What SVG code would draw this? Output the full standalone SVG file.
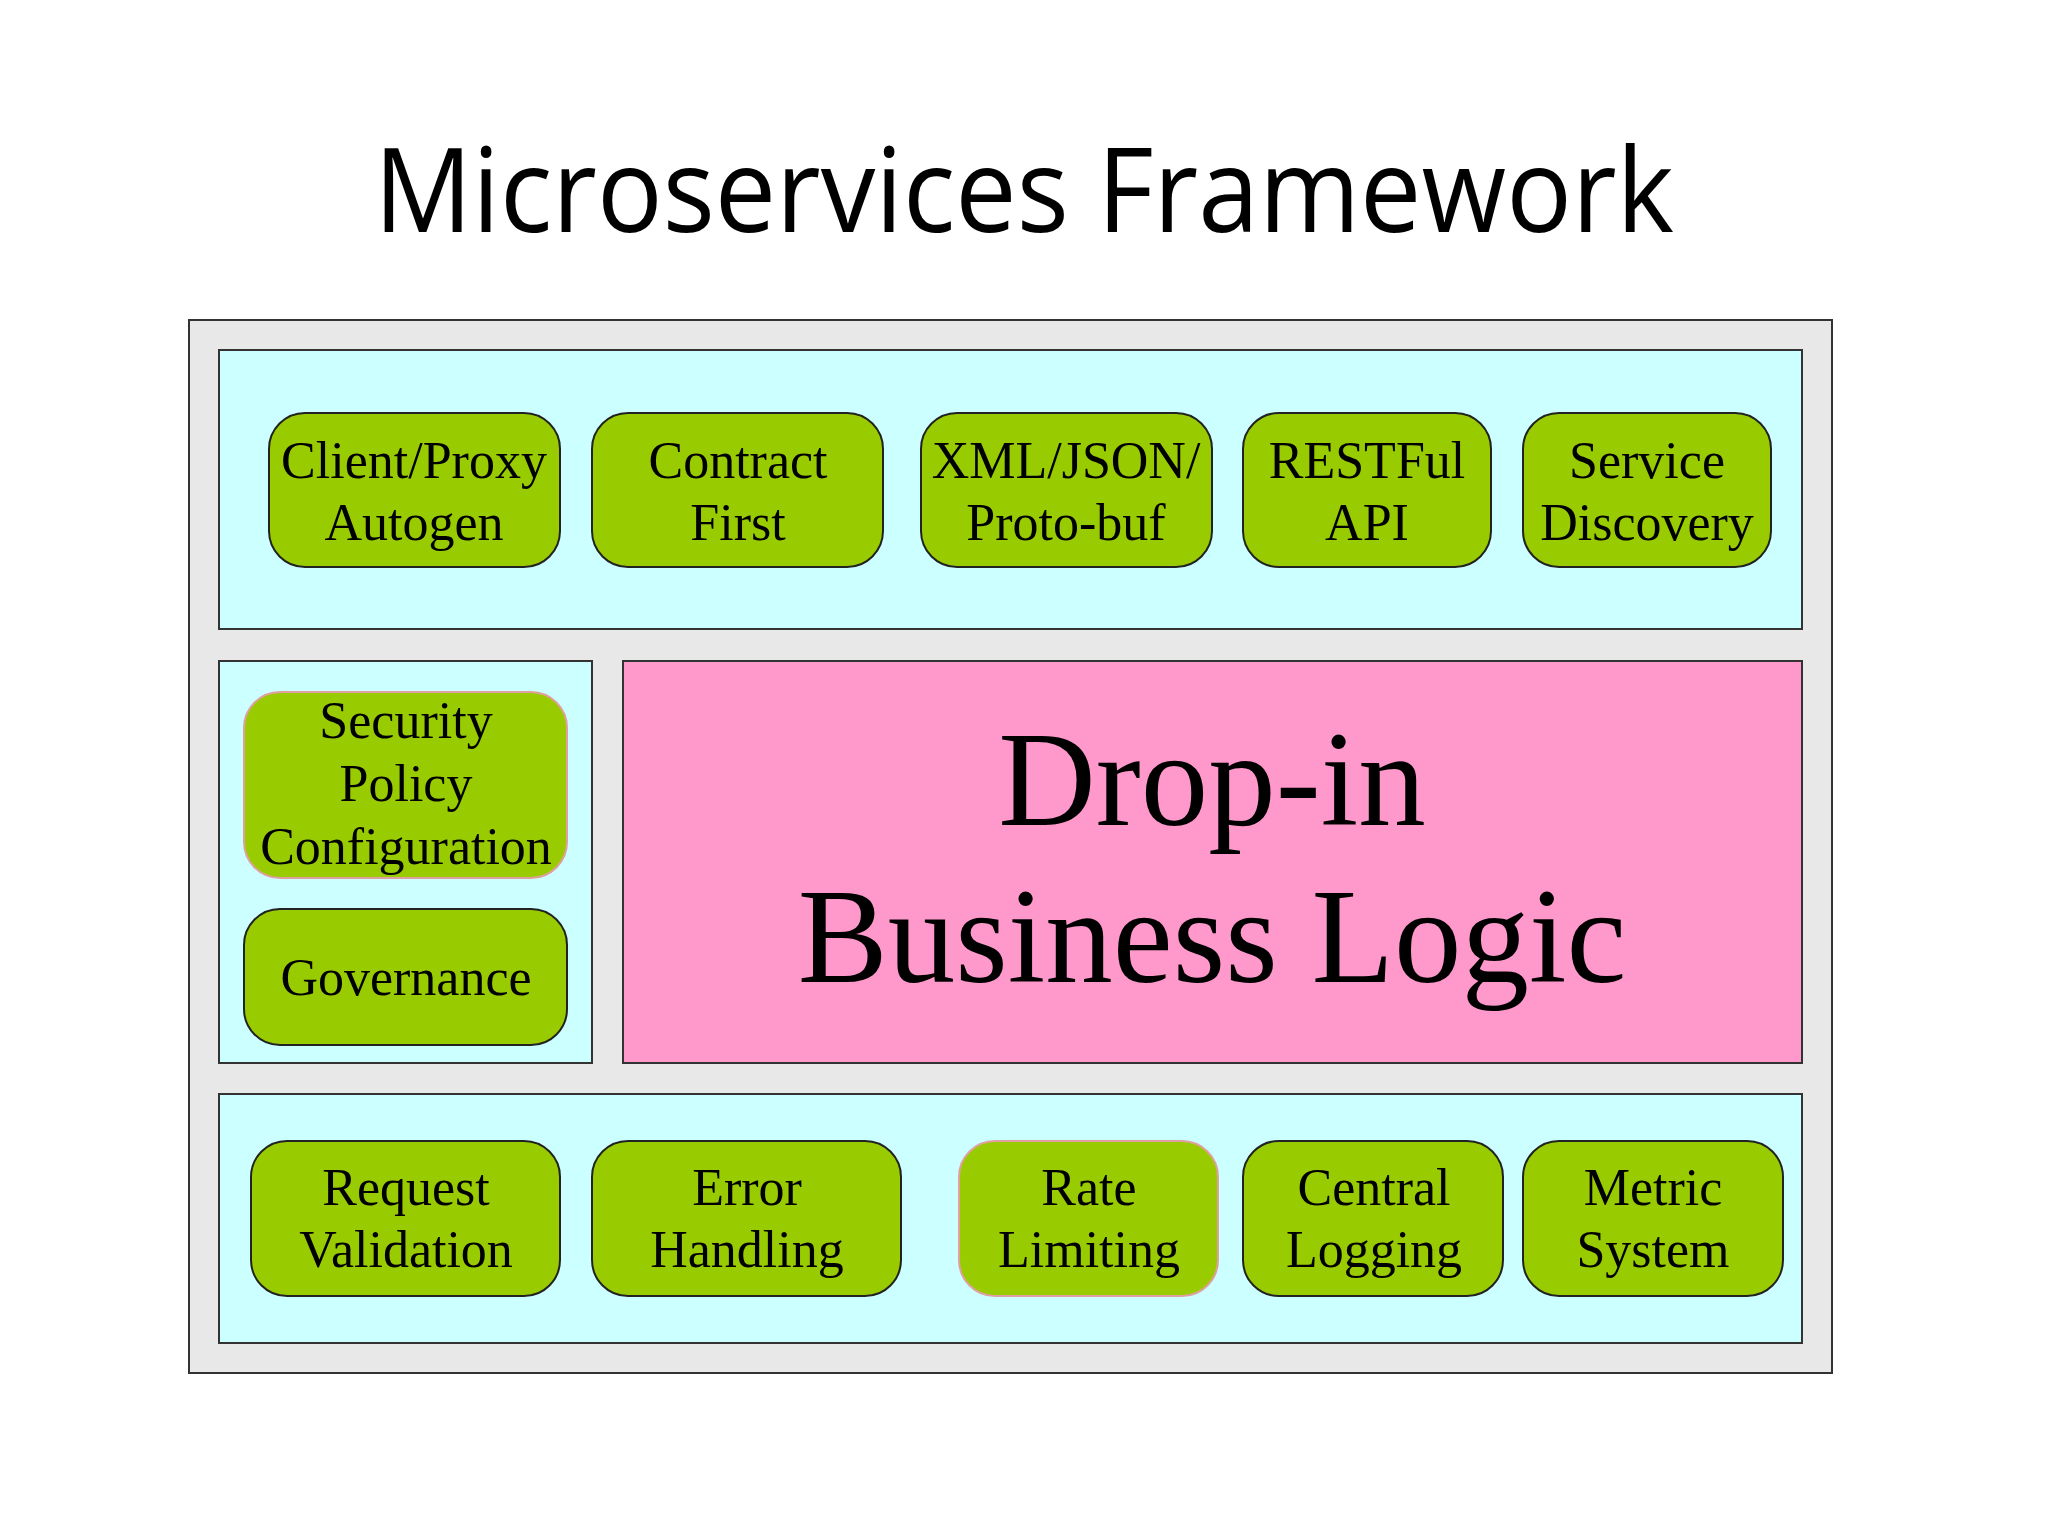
<svg xmlns="http://www.w3.org/2000/svg" width="2048" height="1536" viewBox="0 0 2048 1536">
<style>
.p{fill:#ccffff;stroke:#333;stroke-width:2}
.b{fill:#99cc00;stroke:#222;stroke-width:2}
.bp{fill:#99cc00;stroke:#e0a0a0;stroke-width:2}
.t{font-family:"Liberation Serif",serif;font-size:52px;text-anchor:middle;fill:#000}
</style>
<rect width="2048" height="1536" fill="#fff"/>
<text x="1024" y="232" font-family="Open Sans, sans-serif" font-size="118" text-anchor="middle" textLength="1300" lengthAdjust="spacingAndGlyphs">Microservices Framework</text>
<rect x="189" y="320" width="1643" height="1053" fill="#e8e8e8" stroke="#333" stroke-width="2"/>
<g id="panels">
<rect class="p" x="219" y="350" width="1583" height="279"/>
<rect class="p" x="219" y="661" width="373" height="402"/>
<rect class="p" x="219" y="1094" width="1583" height="249"/>
</g>
<g id="logic"><rect x="623" y="661" width="1179" height="402" fill="#ff99cc" stroke="#333" stroke-width="2"/>
<text x="1212" y="825" font-family="Liberation Serif,serif" font-size="135" text-anchor="middle">Drop-in</text>
<text x="1212" y="982" font-family="Liberation Serif,serif" font-size="135" text-anchor="middle">Business Logic</text></g>
<g id="n1"><rect class="b" x="269" y="413" width="291" height="154" rx="36"/><text class="t" x="414" y="478">Client/Proxy</text><text class="t" x="414" y="540">Autogen</text></g>
<g id="n2"><rect class="b" x="592" y="413" width="291" height="154" rx="36"/><text class="t" x="738" y="478">Contract</text><text class="t" x="738" y="540">First</text></g>
<g id="n3"><rect class="b" x="921" y="413" width="291" height="154" rx="36"/><text class="t" x="1066" y="478">XML/JSON/</text><text class="t" x="1066" y="540">Proto-buf</text></g>
<g id="n4"><rect class="b" x="1243" y="413" width="248" height="154" rx="36"/><text class="t" x="1367" y="478">RESTFul</text><text class="t" x="1367" y="540">API</text></g>
<g id="n5"><rect class="b" x="1523" y="413" width="248" height="154" rx="36"/><text class="t" x="1647" y="478">Service</text><text class="t" x="1647" y="540">Discovery</text></g>
<g id="n6"><rect class="bp" x="244" y="692" width="323" height="186" rx="36"/><text class="t" x="406" y="738">Security</text><text class="t" x="406" y="801">Policy</text><text class="t" x="406" y="864">Configuration</text></g>
<g id="n7"><rect class="b" x="244" y="909" width="323" height="136" rx="36"/><text class="t" x="406" y="995">Governance</text></g>
<g id="n8"><rect class="b" x="251" y="1141" width="309" height="155" rx="36"/><text class="t" x="406" y="1205">Request</text><text class="t" x="406" y="1267">Validation</text></g>
<g id="n9"><rect class="b" x="592" y="1141" width="309" height="155" rx="36"/><text class="t" x="747" y="1205">Error</text><text class="t" x="747" y="1267">Handling</text></g>
<g id="n10"><rect class="bp" x="959" y="1141" width="259" height="155" rx="36"/><text class="t" x="1089" y="1205">Rate</text><text class="t" x="1089" y="1267">Limiting</text></g>
<g id="n11"><rect class="b" x="1243" y="1141" width="260" height="155" rx="36"/><text class="t" x="1374" y="1205">Central</text><text class="t" x="1374" y="1267">Logging</text></g>
<g id="n12"><rect class="b" x="1523" y="1141" width="260" height="155" rx="36"/><text class="t" x="1653" y="1205">Metric</text><text class="t" x="1653" y="1267">System</text></g>
<g id="connectors"/>
</svg>
